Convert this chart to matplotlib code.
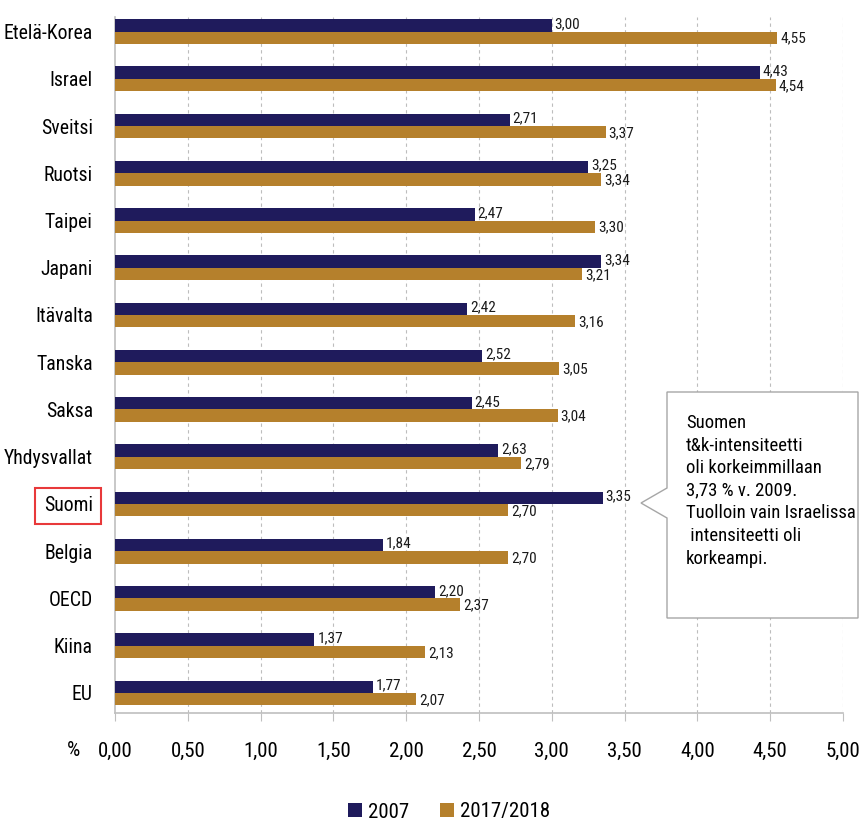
import matplotlib
matplotlib.use("Agg")
import matplotlib.pyplot as plt
from matplotlib import font_manager
from matplotlib.patches import Polygon, Patch
import numpy as np

names = {f.name for f in font_manager.fontManager.ttflist}
fam = 'Roboto Condensed' if 'Roboto Condensed' in names else 'Liberation Sans Narrow' if 'Liberation Sans Narrow' in names else 'Liberation Sans'
plt.rcParams['font.family'] = [fam, 'DejaVu Sans']

categories = ['Etelä-Korea', 'Israel', 'Sveitsi', 'Ruotsi', 'Taipei', 'Japani', 'Itävalta',
              'Tanska', 'Saksa', 'Yhdysvallat', 'Suomi', 'Belgia', 'OECD', 'Kiina', 'EU']
v2007 = [3.00, 4.43, 2.71, 3.25, 2.47, 3.34, 2.42, 2.52, 2.45, 2.63, 3.35, 1.84, 2.20, 1.37, 1.77]
v2018 = [4.55, 4.54, 3.37, 3.34, 3.30, 3.21, 3.16, 3.05, 3.04, 2.79, 2.70, 2.70, 2.37, 2.13, 2.07]
xticks = [0.0, 0.5, 1.0, 1.5, 2.0, 2.5, 3.0, 3.5, 4.0, 4.5, 5.0]
series_names = ['2007', '2017/2018']

navy = '#1F1B5C'
gold = '#B5802C'
grey = '#BFBFBF'

W, H = 861, 824
fig = plt.figure(figsize=(W / 100, H / 100), dpi=100)
ax = fig.add_axes([115 / W, 1 - 713 / H, 728 / W, 696 / H])

y = np.arange(len(categories))
bh = 0.26
ax.barh(y - bh / 2, v2007, height=bh, color=navy, zorder=3)
ax.barh(y + bh / 2, v2018, height=bh, color=gold, zorder=3)

def fmt(v):
    return f'{v:.2f}'.replace('.', ',')

for yi, a, b in zip(y, v2007, v2018):
    ax.text(a + 0.02, yi - bh / 2 - 0.03, fmt(a), va='center', ha='left', fontsize=11, color='#1a1a1a', zorder=4)
    ax.text(b + 0.02, yi + bh / 2 + 0.02, fmt(b), va='center', ha='left', fontsize=11, color='#1a1a1a', zorder=4)

ax.set_xlim(0, 5)
ax.set_ylim(14 + 20 / 47.2, -14.5 / 47.2)
ax.set_xticks(xticks)
ax.set_xticklabels([fmt(t) for t in xticks], fontsize=15)
ax.set_yticks(y)
ax.set_yticklabels(categories, fontsize=14.2)
ax.tick_params(axis='y', length=0, pad=16)
ax.tick_params(axis='x', length=6, color=grey, pad=15)
ax.grid(axis='x', color='#BDBDBD', linestyle=(0, (3, 3)), linewidth=0.8, zorder=0)
ax.xaxis.get_gridlines()[0].set_visible(False)
for s in ['top', 'right']:
    ax.spines[s].set_visible(False)
for s in ['left', 'bottom']:
    ax.spines[s].set_color(grey)
    ax.spines[s].set_linewidth(1.2)

for lab in ax.get_yticklabels():
    if lab.get_text() == 'Suomi':
        lab.set_bbox(dict(facecolor='white', edgecolor='#E8393A', linewidth=1.5, boxstyle='square,pad=0.42'))

fig.text(67 / W, 1 - 750 / H, '%', fontsize=15, ha='left', va='center')

# callout
pts = [(667, 392), (858, 392), (858, 618), (667, 618), (667, 518), (641, 503), (667, 488)]
poly = Polygon([(px / W, 1 - py / H) for px, py in pts], closed=True, transform=fig.transFigure,
               facecolor='white', edgecolor='#A6A6A6', linewidth=1.0, zorder=10)
fig.patches.append(poly)
lines = ['Suomen', 't&k-intensiteetti', 'oli korkeimmillaan', '3,73 % v. 2009.',
         'Tuolloin vain Israelissa', ' intensiteetti oli', 'korkeampi.']
for i, t in enumerate(lines):
    fig.text(686 / W, 1 - (423 + i * 22.6) / H, t, fontsize=13.5, ha='left', va='center', zorder=11)

handles = [Patch(facecolor=navy), Patch(facecolor=gold)]
fig.legend(handles, series_names, loc='center', bbox_to_anchor=(449 / W, 1 - 812 / H), ncol=2,
           frameon=False, fontsize=15, handlelength=0.65, handleheight=0.65, columnspacing=1.5,
           handletextpad=0.3)

fig.savefig('out.png', dpi=100)
